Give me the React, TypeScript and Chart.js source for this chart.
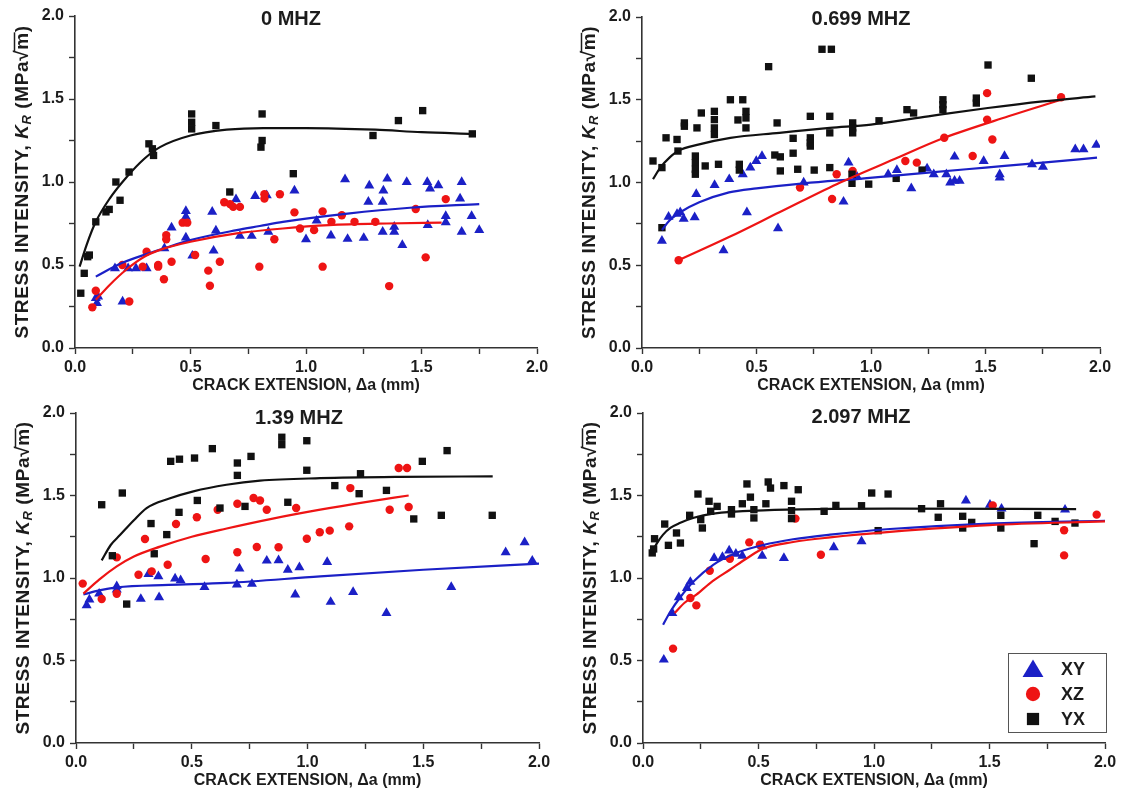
import React, { useEffect, useRef } from "react";
import { Chart, registerables } from "chart.js";

Chart.register(...registerables);

type P = [number, number];

// ---------------- 0 MHZ ----------------
const XY_0MHZ: P[] = [
  [0.09, 0.3], [0.095, 0.27], [0.1, 0.31], [0.173, 0.48], [0.206, 0.28], [0.23, 0.48], [0.264, 0.48],
  [0.31, 0.48], [0.387, 0.6], [0.418, 0.725], [0.48, 0.825], [0.48, 0.79], [0.48, 0.665], [0.508, 0.556],
  [0.594, 0.82], [0.6, 0.586], [0.61, 0.707], [0.697, 0.896], [0.714, 0.675], [0.765, 0.675], [0.78, 0.915],
  [0.83, 0.92], [0.837, 0.7], [0.95, 0.948], [1.0, 0.655], [1.046, 0.767], [1.108, 0.677], [1.169, 1.016],
  [1.18, 0.657], [1.25, 0.663], [1.274, 0.978], [1.27, 0.88], [1.332, 0.88], [1.335, 0.948], [1.352, 1.02],
  [1.332, 0.7], [1.382, 0.73], [1.382, 0.7], [1.417, 0.62], [1.436, 1.0], [1.525, 1.0], [1.537, 0.96],
  [1.573, 0.98], [1.527, 0.74], [1.605, 0.795], [1.605, 0.757], [1.674, 1.0], [1.667, 0.9], [1.674, 0.7],
  [1.717, 0.795], [1.75, 0.71],
];
const XZ_0MHZ: P[] = [
  [0.075, 0.245], [0.09, 0.345], [0.205, 0.5], [0.235, 0.28], [0.293, 0.49], [0.31, 0.58], [0.36, 0.5],
  [0.36, 0.49], [0.385, 0.414], [0.395, 0.68], [0.395, 0.655], [0.418, 0.52], [0.466, 0.755], [0.486, 0.755],
  [0.52, 0.56], [0.577, 0.466], [0.584, 0.375], [0.627, 0.52], [0.646, 0.878], [0.671, 0.867], [0.685, 0.85],
  [0.714, 0.85], [0.798, 0.49], [0.82, 0.926], [0.82, 0.9], [0.863, 0.655], [0.887, 0.926], [0.95, 0.817],
  [0.974, 0.72], [1.035, 0.71], [1.072, 0.823], [1.072, 0.49], [1.11, 0.76], [1.155, 0.8], [1.21, 0.76],
  [1.3, 0.76], [1.36, 0.373], [1.475, 0.837], [1.518, 0.546], [1.605, 0.897],
];
const YX_0MHZ: P[] = [
  [0.025, 0.33], [0.04, 0.45], [0.055, 0.55], [0.062, 0.56], [0.09, 0.76], [0.134, 0.82], [0.148, 0.835],
  [0.177, 1.0], [0.195, 0.89], [0.234, 1.06], [0.32, 1.23], [0.335, 1.2], [0.34, 1.16], [0.505, 1.41],
  [0.505, 1.36], [0.505, 1.32], [0.61, 1.34], [0.67, 0.94], [0.81, 1.41], [0.81, 1.25], [0.805, 1.21],
  [0.945, 1.05], [1.29, 1.28], [1.4, 1.37], [1.505, 1.43], [1.72, 1.29],
];
const XY_FIT_0MHZ: P[] = [
  [0.09, 0.43], [0.2, 0.51], [0.387, 0.6], [0.5, 0.65], [0.7, 0.71], [0.8, 0.735], [0.9, 0.76],
  [1.18, 0.81], [1.45, 0.845], [1.75, 0.867],
];
const XZ_FIT_0MHZ: P[] = [
  [0.09, 0.29], [0.15, 0.38], [0.22, 0.47], [0.3, 0.55], [0.387, 0.6], [0.5, 0.64], [0.7, 0.69],
  [0.9, 0.72], [1.1, 0.74], [1.35, 0.75], [1.587, 0.755],
];
const YX_FIT_0MHZ: P[] = [
  [0.02, 0.49], [0.05, 0.62], [0.09, 0.76], [0.15, 0.9], [0.224, 1.03], [0.3, 1.14], [0.368, 1.21],
  [0.5, 1.28], [0.657, 1.315], [0.815, 1.325], [1.0, 1.325], [1.3, 1.315], [1.5, 1.3], [1.72, 1.29],
];

// ---------------- 0.699 MHZ ----------------
const XY_0699MHZ: P[] = [
  [0.087, 0.648], [0.116, 0.793], [0.153, 0.81], [0.167, 0.82], [0.182, 0.78], [0.23, 0.79], [0.237, 0.93],
  [0.317, 0.985], [0.356, 0.59], [0.381, 1.02], [0.44, 1.05], [0.458, 0.82], [0.473, 1.09], [0.499, 1.13],
  [0.524, 1.16], [0.594, 0.723], [0.706, 1.0], [0.88, 0.884], [0.902, 1.12], [0.939, 1.035], [1.075, 1.05],
  [1.113, 1.075], [1.176, 0.965], [1.245, 1.085], [1.274, 1.05], [1.329, 1.05], [1.346, 1.0], [1.365, 1.156],
  [1.365, 1.01], [1.387, 1.01], [1.492, 1.13], [1.562, 1.05], [1.562, 1.03], [1.583, 1.16], [1.703, 1.11],
  [1.751, 1.095], [1.892, 1.2], [1.928, 1.2], [1.984, 1.227],
];
const XZ_0699MHZ: P[] = [
  [0.16, 0.53], [0.69, 0.97], [0.83, 0.9], [0.85, 1.05], [0.92, 1.07], [1.15, 1.13], [1.2, 1.12],
  [1.32, 1.27], [1.444, 1.16], [1.507, 1.38], [1.507, 1.54], [1.53, 1.26], [1.83, 1.515],
];
const YX_0699MHZ: P[] = [
  [0.048, 1.13], [0.087, 1.09], [0.087, 0.727], [0.105, 1.27], [0.153, 1.26], [0.157, 1.19], [0.185, 1.36],
  [0.185, 1.34], [0.24, 1.33], [0.259, 1.42], [0.233, 1.16], [0.233, 1.12], [0.233, 1.08], [0.233, 1.05],
  [0.276, 1.1], [0.316, 1.43], [0.316, 1.38], [0.316, 1.33], [0.316, 1.29], [0.334, 1.11], [0.386, 1.5],
  [0.419, 1.378], [0.425, 1.11], [0.425, 1.075], [0.44, 1.5], [0.454, 1.43], [0.454, 1.39], [0.454, 1.33],
  [0.553, 1.7], [0.59, 1.36], [0.58, 1.166], [0.604, 1.155], [0.604, 1.07], [0.66, 1.267], [0.66, 1.177],
  [0.68, 1.08], [0.735, 1.4], [0.735, 1.27], [0.735, 1.24], [0.735, 1.22], [0.752, 1.075], [0.786, 1.805],
  [0.827, 1.805], [0.82, 1.4], [0.82, 1.3], [0.82, 1.09], [0.92, 1.36], [0.92, 1.33], [0.92, 1.3],
  [0.917, 1.05], [0.917, 0.995], [0.99, 0.99], [1.035, 1.373], [1.11, 1.025], [1.157, 1.44], [1.186, 1.42],
  [1.223, 1.075], [1.314, 1.5], [1.314, 1.47], [1.314, 1.44], [1.46, 1.51], [1.46, 1.48], [1.511, 1.71],
  [1.7, 1.63],
];
const XY_FIT_0699MHZ: P[] = [
  [0.087, 0.713], [0.12, 0.77], [0.167, 0.82], [0.25, 0.88], [0.38, 0.94], [0.5, 0.965], [0.706, 0.995],
  [0.97, 1.025], [1.25, 1.06], [1.5, 1.09], [1.75, 1.12], [1.987, 1.15],
];
const XZ_FIT_0699MHZ: P[] = [
  [0.16, 0.53], [0.38, 0.67], [0.6, 0.82], [0.85, 0.99], [1.1, 1.14], [1.32, 1.27], [1.6, 1.4], [1.83, 1.5],
];
const YX_FIT_0699MHZ: P[] = [
  [0.048, 1.02], [0.08, 1.09], [0.12, 1.15], [0.157, 1.19], [0.25, 1.23], [0.386, 1.27], [0.6, 1.3],
  [0.82, 1.33], [1.0, 1.35], [1.25, 1.4], [1.51, 1.45], [1.75, 1.49], [1.98, 1.52],
];

// ---------------- 1.39 MHZ ----------------
const XY_139MHZ: P[] = [
  [0.046, 0.834], [0.058, 0.869], [0.1, 0.905], [0.176, 0.95], [0.176, 0.93], [0.28, 0.873], [0.313, 1.024],
  [0.356, 1.01], [0.359, 0.883], [0.428, 0.996], [0.452, 0.986], [0.555, 0.945], [0.695, 0.96], [0.706, 1.057],
  [0.76, 0.964], [0.824, 1.105], [0.875, 1.107], [0.915, 1.05], [0.947, 0.899], [0.965, 1.065], [1.085, 1.097],
  [1.1, 0.855], [1.197, 0.915], [1.341, 0.788], [1.621, 0.945], [1.856, 1.156], [1.938, 1.216], [1.971, 1.105],
];
const XZ_139MHZ: P[] = [
  [0.029, 0.966], [0.111, 0.873], [0.176, 1.125], [0.176, 0.905], [0.27, 1.02], [0.298, 1.236], [0.327, 1.04],
  [0.396, 1.08], [0.432, 1.327], [0.522, 1.368], [0.56, 1.115], [0.612, 1.414], [0.697, 1.45], [0.697, 1.156],
  [0.781, 1.188], [0.767, 1.485], [0.795, 1.47], [0.824, 1.414], [0.875, 1.186], [0.951, 1.424], [0.997, 1.238],
  [1.053, 1.277], [1.096, 1.287], [1.18, 1.313], [1.185, 1.545], [1.355, 1.414], [1.394, 1.667], [1.43, 1.667],
  [1.437, 1.43],
];
const YX_139MHZ: P[] = [
  [0.111, 1.444], [0.157, 1.135], [0.2, 1.515], [0.219, 0.842], [0.324, 1.33], [0.338, 1.147], [0.392, 1.263],
  [0.409, 1.707], [0.445, 1.398], [0.447, 1.72], [0.512, 1.727], [0.524, 1.47], [0.589, 1.784], [0.622, 1.424],
  [0.697, 1.697], [0.697, 1.622], [0.73, 1.434], [0.756, 1.737], [0.889, 1.853], [0.889, 1.808], [0.915, 1.459],
  [0.997, 1.832], [0.997, 1.653], [1.118, 1.56], [1.229, 1.632], [1.223, 1.511], [1.341, 1.531], [1.459, 1.358],
  [1.496, 1.707], [1.578, 1.38], [1.603, 1.772], [1.798, 1.38],
];
const XY_FIT_139MHZ: P[] = [
  [0.032, 0.9], [0.1, 0.925], [0.176, 0.943], [0.4, 0.958], [0.65, 0.97], [1.055, 1.01], [1.5, 1.05], [2.0, 1.087],
];
const XZ_FIT_139MHZ: P[] = [
  [0.032, 0.905], [0.1, 0.99], [0.176, 1.07], [0.25, 1.13], [0.363, 1.19], [0.5, 1.25], [0.651, 1.3],
  [0.85, 1.36], [1.055, 1.414], [1.25, 1.46], [1.437, 1.5],
];
const YX_FIT_139MHZ: P[] = [
  [0.111, 1.107], [0.15, 1.2], [0.19, 1.26], [0.25, 1.35], [0.305, 1.424], [0.4, 1.48], [0.507, 1.525],
  [0.65, 1.565], [0.795, 1.59], [1.055, 1.605], [1.4, 1.613], [1.8, 1.616],
];

// ---------------- 2.097 MHZ ----------------
const XY_2097MHZ: P[] = [
  [0.09, 0.505], [0.127, 0.788], [0.155, 0.883], [0.19, 0.939], [0.205, 0.976], [0.308, 1.121], [0.344, 1.127],
  [0.373, 1.166], [0.402, 1.147], [0.43, 1.135], [0.516, 1.192], [0.516, 1.135], [0.61, 1.121], [0.826, 1.186],
  [0.946, 1.222], [1.398, 1.469], [1.502, 1.444], [1.552, 1.42], [1.827, 1.414],
];
const XZ_2097MHZ: P[] = [
  [0.13, 0.572], [0.205, 0.879], [0.231, 0.834], [0.289, 1.044], [0.376, 1.117], [0.46, 1.216], [0.506, 1.202],
  [0.66, 1.36], [0.77, 1.141], [1.514, 1.44], [1.823, 1.289], [1.823, 1.137], [1.964, 1.384],
];
const YX_2097MHZ: P[] = [
  [0.04, 1.152], [0.046, 1.176], [0.05, 1.238], [0.094, 1.327], [0.11, 1.198], [0.145, 1.273], [0.162, 1.212],
  [0.202, 1.38], [0.238, 1.509], [0.25, 1.354], [0.257, 1.303], [0.286, 1.465], [0.293, 1.404], [0.321, 1.434],
  [0.383, 1.414], [0.383, 1.388], [0.43, 1.45], [0.45, 1.57], [0.465, 1.49], [0.48, 1.414], [0.48, 1.364],
  [0.532, 1.45], [0.542, 1.582], [0.552, 1.545], [0.61, 1.56], [0.643, 1.465], [0.643, 1.408], [0.643, 1.36],
  [0.672, 1.535], [0.784, 1.404], [0.835, 1.44], [0.946, 1.438], [0.99, 1.515], [1.018, 1.287], [1.061, 1.509],
  [1.206, 1.42], [1.278, 1.368], [1.288, 1.45], [1.384, 1.374], [1.384, 1.303], [1.423, 1.337], [1.549, 1.38],
  [1.549, 1.303], [1.693, 1.208], [1.709, 1.38], [1.784, 1.343], [1.87, 1.333],
];
const XY_FIT_2097MHZ: P[] = [
  [0.087, 0.717], [0.12, 0.8], [0.159, 0.879], [0.22, 0.98], [0.304, 1.08], [0.4, 1.15], [0.52, 1.2],
  [0.65, 1.235], [0.81, 1.263], [1.069, 1.297], [1.5, 1.33], [2.0, 1.347],
];
const XZ_FIT_2097MHZ: P[] = [
  [0.137, 0.788], [0.18, 0.85], [0.231, 0.899], [0.3, 0.98], [0.376, 1.05], [0.45, 1.12], [0.52, 1.178],
  [0.65, 1.218], [0.81, 1.246], [1.069, 1.279], [1.5, 1.32], [2.0, 1.343],
];
const YX_FIT_2097MHZ: P[] = [
  [0.037, 1.152], [0.06, 1.21], [0.087, 1.263], [0.12, 1.305], [0.159, 1.333], [0.22, 1.365], [0.304, 1.39],
  [0.52, 1.41], [1.069, 1.42], [1.875, 1.418],
];

// ---------------- labels ----------------
const PANEL_TITLES = ["0 MHZ", "0.699 MHZ", "1.39 MHZ", "2.097 MHZ"];
const SERIES_NAMES = ["XY", "XZ", "YX"];
const X_TITLE = "CRACK EXTENSION, \u0394a (mm)";
const Y_TITLE_PARTS = ["STRESS INTENSITY, ", "K", "R", " (MPa\u221Am)"];

const FONT = "'Liberation Sans', Arial, Helvetica, sans-serif";
const BLUE = "#1b20c6";
const RED = "#ee1414";
const BLACK = "#111111";
const TEXT = "#1c1c1c";
const AXIS = "#333333";

interface Area { l: number; t: number; r: number; b: number }
interface PanelSpec {
  title: string;
  xy: P[]; xz: P[]; yx: P[];
  xyFit: P[]; xzFit: P[]; yxFit: P[];
  left: number; top: number; w: number; h: number;
  area: Area;
  titleX: number; titleY: number; xTitleCY: number;
  legend: boolean;
}

const PANELS: PanelSpec[] = [
  {
    title: PANEL_TITLES[0], xy: XY_0MHZ, xz: XZ_0MHZ, yx: YX_0MHZ,
    xyFit: XY_FIT_0MHZ, xzFit: XZ_FIT_0MHZ, yxFit: YX_FIT_0MHZ,
    left: 0, top: 0, w: 562, h: 397, area: { l: 75, t: 16, r: 537, b: 348 },
    titleX: 291, titleY: 19, xTitleCY: 385.5, legend: false,
  },
  {
    title: PANEL_TITLES[1], xy: XY_0699MHZ, xz: XZ_0699MHZ, yx: YX_0699MHZ,
    xyFit: XY_FIT_0699MHZ, xzFit: XZ_FIT_0699MHZ, yxFit: YX_FIT_0699MHZ,
    left: 562, top: 0, w: 562, h: 397, area: { l: 80, t: 17, r: 538, b: 348 },
    titleX: 299, titleY: 19, xTitleCY: 385.5, legend: false,
  },
  {
    title: PANEL_TITLES[2], xy: XY_139MHZ, xz: XZ_139MHZ, yx: YX_139MHZ,
    xyFit: XY_FIT_139MHZ, xzFit: XZ_FIT_139MHZ, yxFit: YX_FIT_139MHZ,
    left: 0, top: 397, w: 562, h: 398, area: { l: 76, t: 16, r: 539, b: 346 },
    titleX: 299, titleY: 21, xTitleCY: 383.5, legend: false,
  },
  {
    title: PANEL_TITLES[3], xy: XY_2097MHZ, xz: XZ_2097MHZ, yx: YX_2097MHZ,
    xyFit: XY_FIT_2097MHZ, xzFit: XZ_FIT_2097MHZ, yxFit: YX_FIT_2097MHZ,
    left: 562, top: 397, w: 562, h: 398, area: { l: 81, t: 16, r: 543, b: 346 },
    titleX: 299, titleY: 20, xTitleCY: 383.5, legend: true,
  },
];

const toPts = (a: P[]) => a.map(([x, y]) => ({ x, y }));

const tickLabel = (v: number | string) => {
  const n = Number(v);
  return Math.abs(n * 2 - Math.round(n * 2)) < 1e-6 ? n.toFixed(1) : "";
};

function makeTitlePlugin(spec: PanelSpec) {
  return {
    id: "panelTitle",
    afterDraw(chart: any) {
      const ctx: CanvasRenderingContext2D = chart.ctx;
      ctx.save();
      ctx.font = `bold 20px ${FONT}`;
      ctx.fillStyle = TEXT;
      ctx.textAlign = "center";
      ctx.textBaseline = "middle";
      ctx.fillText(spec.title, spec.titleX, spec.titleY);
      ctx.restore();
    },
  };
}

const yTitlePlugin = {
  id: "yTitle",
  afterDraw(chart: any) {
    const ctx: any = chart.ctx;
    const ca = chart.chartArea;
    const cx = ca.left - 52;
    const cy = (ca.top + ca.bottom) / 2;
    const fonts = [
      `bold 19px ${FONT}`,
      `italic bold 19px ${FONT}`,
      `italic bold 13px ${FONT}`,
      `bold 19px ${FONT}`,
    ];
    const dys = [0, 0, 4.5, 0];
    ctx.save();
    ctx.translate(cx, cy);
    ctx.rotate(-Math.PI / 2);
    ctx.fillStyle = TEXT;
    ctx.textBaseline = "middle";
    ctx.textAlign = "left";
    if ("letterSpacing" in ctx) ctx.letterSpacing = "0.6px";
    const widths = Y_TITLE_PARTS.map((t, i) => {
      ctx.font = fonts[i];
      return ctx.measureText(t).width;
    });
    const total = widths.reduce((a: number, b: number) => a + b, 0);
    let x = -total / 2;
    Y_TITLE_PARTS.forEach((t, i) => {
      ctx.font = fonts[i];
      ctx.fillText(t, x, dys[i]);
      if (i === 3) {
        const before = ctx.measureText(" (MPa\u221A").width;
        const rootW = ctx.measureText("\u221A").width;
        const mW = ctx.measureText("m").width;
        ctx.strokeStyle = TEXT;
        ctx.lineWidth = 1.5;
        ctx.beginPath();
        ctx.moveTo(x + before - rootW * 0.2, -8.5);
        ctx.lineTo(x + before + mW, -8.5);
        ctx.stroke();
      }
      x += widths[i];
    });
    ctx.restore();
  },
};

function drawMarker(ctx: CanvasRenderingContext2D, style: string, x: number, y: number, s: number, color: string) {
  ctx.fillStyle = color;
  ctx.beginPath();
  if (style === "triangle") {
    ctx.moveTo(x, y - s * 0.5);
    ctx.lineTo(x + s * 0.55, y + s * 0.42);
    ctx.lineTo(x - s * 0.55, y + s * 0.42);
    ctx.closePath();
  } else if (style === "circle") {
    ctx.arc(x, y, s * 0.42, 0, Math.PI * 2);
  } else {
    ctx.rect(x - s * 0.36, y - s * 0.36, s * 0.72, s * 0.72);
  }
  ctx.fill();
}

const legendPlugin = {
  id: "boxLegend",
  afterDraw(chart: any) {
    const ctx: CanvasRenderingContext2D = chart.ctx;
    const ca = chart.chartArea;
    const w = 99, h = 80;
    const bl = ca.right + 2 - w;
    const bt = ca.bottom - 10 - h;
    ctx.save();
    ctx.fillStyle = "#ffffff";
    ctx.fillRect(bl, bt, w, h);
    ctx.strokeStyle = "#555555";
    ctx.lineWidth = 1;
    ctx.strokeRect(bl + 0.5, bt + 0.5, w - 1, h - 1);
    const styles = ["triangle", "circle", "rect"];
    const colors = [BLUE, RED, BLACK];
    SERIES_NAMES.forEach((name, i) => {
      const yy = bt + 16 + i * 25;
      drawMarker(ctx, styles[i], bl + 25, yy, i === 0 ? 19 : 17, colors[i]);
      ctx.fillStyle = TEXT;
      ctx.font = `bold 18px ${FONT}`;
      ctx.textAlign = "left";
      ctx.textBaseline = "middle";
      ctx.fillText(name, bl + 53, yy + 1);
    });
    ctx.restore();
  },
};

function buildConfig(spec: PanelSpec): any {
  const xTitleFont = 16;
  const xTitleLH = xTitleFont * 1.2;
  const scatter = (label: string, data: P[], style: string, r: number, color: string) => ({
    label,
    data: toPts(data),
    showLine: false,
    pointStyle: style,
    pointRadius: r,
    pointHoverRadius: r,
    pointBackgroundColor: color,
    pointBorderColor: color,
    pointBorderWidth: 0,
    backgroundColor: color,
    borderColor: color,
    order: 2,
  });
  const fit = (label: string, data: P[], color: string) => ({
    label,
    data: toPts(data),
    showLine: true,
    pointRadius: 0,
    pointHoverRadius: 0,
    borderColor: color,
    backgroundColor: color,
    borderWidth: 2.2,
    cubicInterpolationMode: "monotone",
    fill: false,
    order: 1,
  });
  const plugins: any[] = [makeTitlePlugin(spec), yTitlePlugin];
  if (spec.legend) plugins.push(legendPlugin);
  return {
    type: "scatter",
    data: {
      datasets: [
        scatter(SERIES_NAMES[2], spec.yx, "rect", 5.2, BLACK),
        scatter(SERIES_NAMES[1], spec.xz, "circle", 4.2, RED),
        scatter(SERIES_NAMES[0], spec.xy, "triangle", 5.8, BLUE),
        fit(SERIES_NAMES[2] + " fit", spec.yxFit, BLACK),
        fit(SERIES_NAMES[1] + " fit", spec.xzFit, RED),
        fit(SERIES_NAMES[0] + " fit", spec.xyFit, BLUE),
      ],
    },
    options: {
      animation: false,
      responsive: false,
      maintainAspectRatio: false,
      devicePixelRatio: 1,
      events: [],
      layout: {
        padding: { left: 0, top: spec.area.t, right: spec.w - spec.area.r, bottom: 0 },
      },
      plugins: {
        legend: { display: false },
        tooltip: { enabled: false },
        title: { display: false },
      },
      scales: {
        x: {
          type: "linear",
          position: "bottom",
          min: 0,
          max: 2,
          offset: false,
          afterFit: (s: any) => {
            s.height = spec.h - spec.area.b;
          },
          ticks: {
            stepSize: 0.25,
            autoSkip: false,
            maxRotation: 0,
            padding: 4,
            color: TEXT,
            font: { family: FONT, size: 16, weight: "bold" },
            callback: tickLabel,
          },
          grid: {
            display: true,
            drawOnChartArea: false,
            drawTicks: true,
            tickLength: 6,
            tickColor: AXIS,
            tickWidth: 1.4,
          },
          border: { display: true, color: AXIS, width: 1.6 },
          title: {
            display: true,
            text: X_TITLE,
            color: TEXT,
            font: { family: FONT, size: xTitleFont, weight: "bold" },
            padding: { top: 0, bottom: Math.max(0, spec.h - spec.xTitleCY - xTitleLH / 2) },
          },
        },
        y: {
          type: "linear",
          position: "left",
          min: 0,
          max: 2,
          afterFit: (s: any) => {
            s.width = spec.area.l;
          },
          ticks: {
            stepSize: 0.25,
            autoSkip: false,
            padding: 5,
            color: TEXT,
            font: { family: FONT, size: 16, weight: "bold" },
            callback: tickLabel,
          },
          grid: {
            display: true,
            drawOnChartArea: false,
            drawTicks: true,
            tickLength: 6,
            tickColor: AXIS,
            tickWidth: 1.4,
          },
          border: { display: true, color: AXIS, width: 1.6 },
        },
      },
    },
    plugins,
  };
}

function Panel({ spec }: { spec: PanelSpec }) {
  const ref = useRef<HTMLCanvasElement | null>(null);
  useEffect(() => {
    const canvas = ref.current;
    if (!canvas) return;
    const chart = new Chart(canvas, buildConfig(spec));
    return () => chart.destroy();
  }, [spec]);
  return (
    <canvas
      ref={ref}
      width={spec.w}
      height={spec.h}
      style={{ position: "absolute", left: spec.left, top: spec.top, width: spec.w, height: spec.h }}
    />
  );
}

export default function App() {
  return (
    <div
      style={{
        position: "absolute",
        left: 0,
        top: 0,
        width: 1124,
        height: 795,
        background: "#ffffff",
        overflow: "hidden",
        fontFamily: FONT,
      }}
    >
      {PANELS.map((p) => (
        <Panel key={p.title} spec={p} />
      ))}
    </div>
  );
}
